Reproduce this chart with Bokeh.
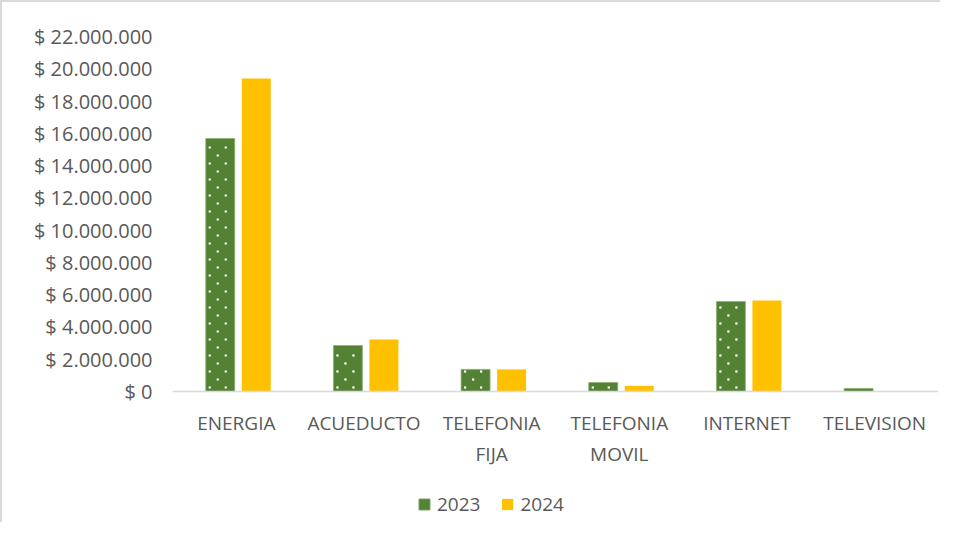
from bokeh.plotting import figure
from bokeh.models import ColumnDataSource, FixedTicker, Legend, LegendItem
from bokeh.embed import file_html
from bokeh.resources import INLINE

categories = ["ENERGIA", "ACUEDUCTO", "TELEFONIA\nFIJA", "TELEFONIA\nMOVIL", "INTERNET", "TELEVISION"]
values_2023 = [15680000, 2850000, 1370000, 560000, 5580000, 190000]
values_2024 = [19400000, 3220000, 1370000, 350000, 5640000, 0]
y_ticks = list(range(0, 22000001, 2000000))

def fmt(v):
    return "$ 0" if v == 0 else "$ " + f"{v:,}".replace(",", ".")

idx = list(range(len(categories)))
off = 0.141
shift = 0.015
bw = 0.227
src23 = ColumnDataSource(dict(x=[i - off + shift for i in idx], top=values_2023))
src24 = ColumnDataSource(dict(x=[i + off + shift for i in idx], top=values_2024))

FONT = "Open Sans"
COL = "#595959"

FRAME_W, ZERO_TO_TOP = 766, 355
y_top = 22000000
y_bottom = -y_top * 131 / ZERO_TO_TOP
ux = 6 / FRAME_W            # data units per pixel (x)
uy = y_top / ZERO_TO_TOP    # data units per pixel (y)

# Excel "dotted" pattern fill for the 2023 bars: staggered white dots (8 px rows, 16 px period)
dx, dy = [], []
for i, v in zip(idx, values_2023):
    left = i - off + shift - bw / 2
    right = i - off + shift + bw / 2
    row = 0
    yy = 4 * uy
    while yy < v - 2 * uy:
        xx = left + (4 if row % 2 == 0 else 12) * ux
        while xx < right - 1.5 * ux:
            dx.append(xx)
            dy.append(yy)
            xx += 16 * ux
        yy += 8 * uy
        row += 1
src_dots = ColumnDataSource(dict(x=dx, y=dy))

p = figure(width=940, height=522, output_backend="svg", toolbar_location=None,
           x_range=(-0.5, 5.5), y_range=(y_bottom, y_top),
           min_border_left=170, min_border_right=4, min_border_top=34, min_border_bottom=2,
           styles={"border-left": "2px solid #d9d9d9", "border-top": "2px solid #d9d9d9"})
p.outline_line_color = None
p.grid.visible = False

r23 = p.vbar(x="x", top="top", width=bw, source=src23, fill_color="#548235",
             line_color="#8fae75", line_width=0.8)
rdots = p.scatter(x="x", y="y", source=src_dots, marker="square", size=2.2,
                  fill_color="white", line_color=None)
r24 = p.vbar(x="x", top="top", width=bw, source=src24, fill_color="#FFC000", line_color=None)

p.yaxis.ticker = FixedTicker(ticks=y_ticks)
p.yaxis.major_label_overrides = {t: fmt(t) for t in y_ticks}
p.yaxis.axis_line_color = None
p.yaxis.major_tick_line_color = None
p.yaxis.major_tick_out = 0
p.yaxis.major_tick_in = 0
p.yaxis.minor_tick_line_color = None
p.yaxis.major_label_standoff = 20
p.yaxis.major_label_text_font = FONT
p.yaxis.major_label_text_font_size = "20px"
p.yaxis.major_label_text_color = COL

p.xaxis.fixed_location = 0
p.xaxis.ticker = FixedTicker(ticks=idx)
p.xaxis.major_label_overrides = {i: c for i, c in zip(idx, categories)}
p.xaxis.axis_line_color = "#d9d9d9"
p.xaxis.axis_line_width = 1.5
p.xaxis.major_tick_line_color = None
p.xaxis.major_tick_out = 0
p.xaxis.major_tick_in = 0
p.xaxis.minor_tick_line_color = None
p.xaxis.major_label_standoff = 18
p.xaxis.major_label_text_font = FONT
p.xaxis.major_label_text_font_size = "19px"
p.xaxis.major_label_text_color = COL

legend = Legend(items=[LegendItem(label="2023", renderers=[r23]), LegendItem(label="2024", renderers=[r24])],
                orientation="horizontal", location=(245, 5), padding=0, margin=0,
                spacing=20, label_standoff=6, glyph_width=14, glyph_height=14,
                label_text_font=FONT, label_text_font_size="19px", label_text_color=COL,
                border_line_color=None, background_fill_alpha=0)
p.add_layout(legend)

open("out.html", "w").write(file_html(p, INLINE))
